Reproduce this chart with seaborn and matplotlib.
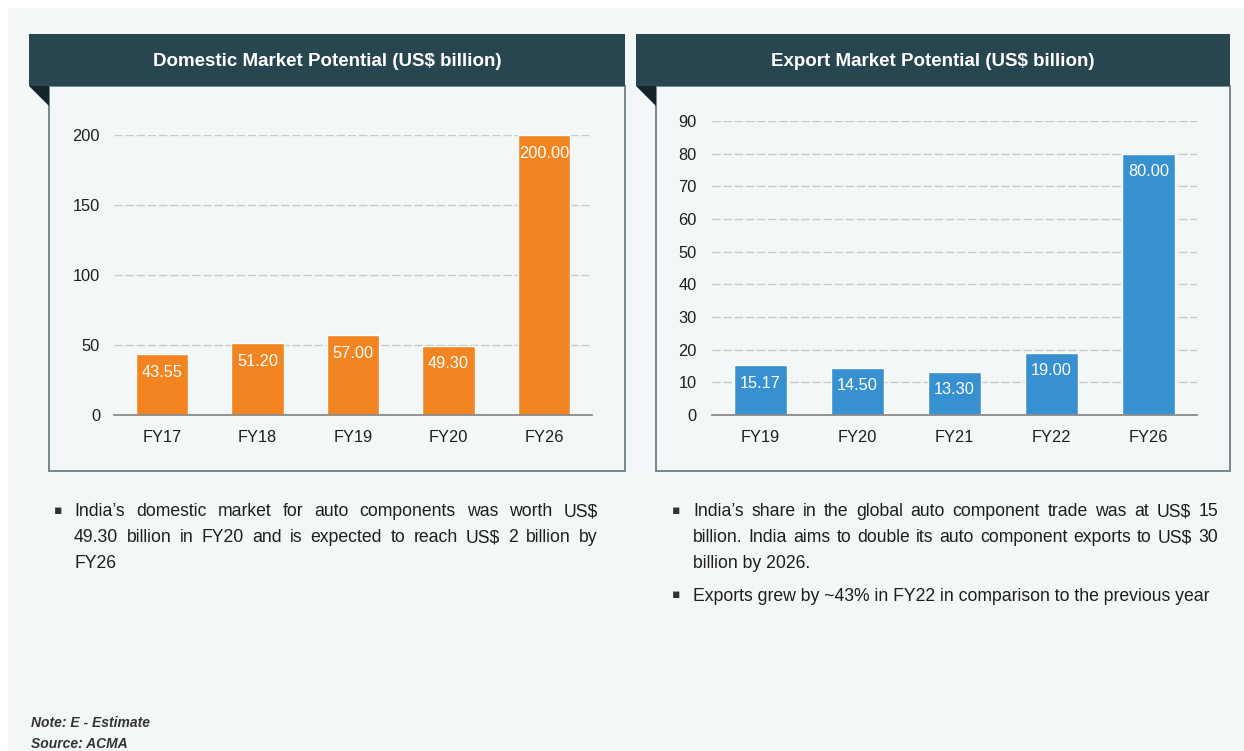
import matplotlib
matplotlib.use("Agg")
import matplotlib.pyplot as plt
import seaborn as sns
from matplotlib.patches import Rectangle, Polygon

# datos de los dos graficos
dom_years = ["FY17", "FY18", "FY19", "FY20", "FY26"]
dom_values = [43.55, 51.20, 57.00, 49.30, 200.00]
exp_years = ["FY19", "FY20", "FY21", "FY22", "FY26"]
exp_values = [15.17, 14.50, 13.30, 19.00, 80.00]

dom_title = "Domestic Market Potential (US$ billion)"
exp_title = "Export Market Potential (US$ billion)"

dom_text = [
    "India\u2019s domestic market for auto components was worth US$",
    "49.30 billion in FY20 and is expected to reach US$ 2 billion by",
    "FY26",
]
exp_text1 = [
    "India\u2019s share in the global auto component trade was at US$ 15",
    "billion. India aims to double its auto component exports to US$ 30",
    "billion by 2026.",
]
exp_text2 = ["Exports grew by ~43% in FY22 in comparison to the previous year"]

ORANGE = "#f28522"
BLUE = "#3790d0"
HEADER = "#28464f"
PANEL = "#f4f7f8"
TEXT = "#1e1e1e"

sns.set_theme(style="white")
plt.rcParams["font.family"] = ["Liberation Sans", "DejaVu Sans"]

W, H = 1244, 751
fig = plt.figure(figsize=(W / 100, H / 100), dpi=100)
fig.patch.set_facecolor("white")

# capa de fondo en pixeles
bg = fig.add_axes([0, 0, 1, 1])
bg.set_xlim(0, W)
bg.set_ylim(H, 0)
bg.axis("off")
bg.add_patch(Rectangle((8, 8), W - 8, H - 8, facecolor=PANEL, edgecolor="none"))


def panel(x0, x1, title):
    # caja, encabezado y triangulo
    bg.add_patch(Rectangle((x0 + 20, 86), x1 - x0 - 20, 385, facecolor=PANEL,
                           edgecolor="#76878d", lw=1.4))
    bg.add_patch(Rectangle((x0, 34), x1 - x0, 52, facecolor=HEADER, edgecolor="none"))
    bg.add_patch(Polygon([(x0, 86), (x0 + 20, 86), (x0 + 20, 106)], closed=True,
                         facecolor="#16252a", edgecolor="none"))
    bg.text((x0 + x1) / 2, 61, title, color="white", fontsize=13.5, fontweight="bold",
            ha="center", va="center")


panel(29, 625, dom_title)
panel(636, 1230, exp_title)

renderer = fig.canvas.get_renderer()


def justified(lines, x0, x1, y, lh=26, size=12.7):
    for i, line in enumerate(lines):
        yy = y + i * lh
        words = line.split()
        if i == len(lines) - 1 or len(words) < 2:
            bg.text(x0, yy, line, fontsize=size, color=TEXT, va="baseline")
            continue
        widths = []
        for w in words:
            t = bg.text(0, 0, w, fontsize=size)
            widths.append(t.get_window_extent(renderer).width)
            t.remove()
        gap = (x1 - x0 - sum(widths)) / (len(words) - 1)
        xx = x0
        for w, wd in zip(words, widths):
            bg.text(xx, yy, w, fontsize=size, color=TEXT, va="baseline")
            xx += wd + gap


def bullet(x, y):
    bg.text(x, y, "\u25aa", fontsize=9, color="#333333", va="center", ha="center",
            family="DejaVu Sans")


bullet(58, 510)
justified(dom_text, 74, 598, 516)
bullet(676, 510)
justified(exp_text1, 693, 1218, 516)
bullet(676, 595)
justified(exp_text2, 693, 1218, 601)

bg.text(31, 723, "Note: E - Estimate", fontsize=10, style="italic", fontweight="bold",
        color="#333333", va="center")
bg.text(31, 744, "Source: ACMA", fontsize=10, style="italic", fontweight="bold",
        color="#333333", va="center")


def bar_chart(rect, cats, vals, color, ymax, step, ypad):
    ax = fig.add_axes(rect)
    ax.set_facecolor("none")
    sns.barplot(x=cats, y=vals, color=color, saturation=1, width=0.55, ax=ax)
    ax.set_xlim(-0.5, len(cats) - 0.5)
    ax.set_ylim(0, ymax)
    ax.set_yticks(range(0, ymax + 1, step))
    ax.yaxis.grid(True, color="#c9c9c9", linestyle=(0, (6, 2)), lw=1)
    ax.set_axisbelow(True)
    for s in ["left", "right", "top"]:
        ax.spines[s].set_visible(False)
    ax.spines["bottom"].set_color("#8a8a8a")
    ax.spines["bottom"].set_linewidth(1.3)
    ax.set_xticks([i - 0.5 for i in range(len(cats) + 1)], minor=True)
    ax.tick_params(axis="x", which="minor", direction="out", length=6, width=1.2,
                   color="#8a8a8a")
    ax.tick_params(axis="x", which="major", length=0, pad=11, labelsize=11.8,
                   labelcolor=TEXT)
    ax.tick_params(axis="y", length=0, pad=ypad, labelsize=11.8, labelcolor=TEXT)
    for i, v in enumerate(vals):
        ax.annotate(f"{v:.2f}", (i, v), xytext=(0, -18), textcoords="offset pixels",
                    ha="center", va="center", color="white", fontsize=11.8)
    return ax


bar_chart([114 / W, (H - 415) / H, 478 / W, 280 / H], dom_years, dom_values, ORANGE, 200, 50, 10)
bar_chart([712 / W, (H - 415) / H, 485 / W, 294 / H], exp_years, exp_values, BLUE, 90, 10, 11)

fig.savefig("out.png", dpi=100)
